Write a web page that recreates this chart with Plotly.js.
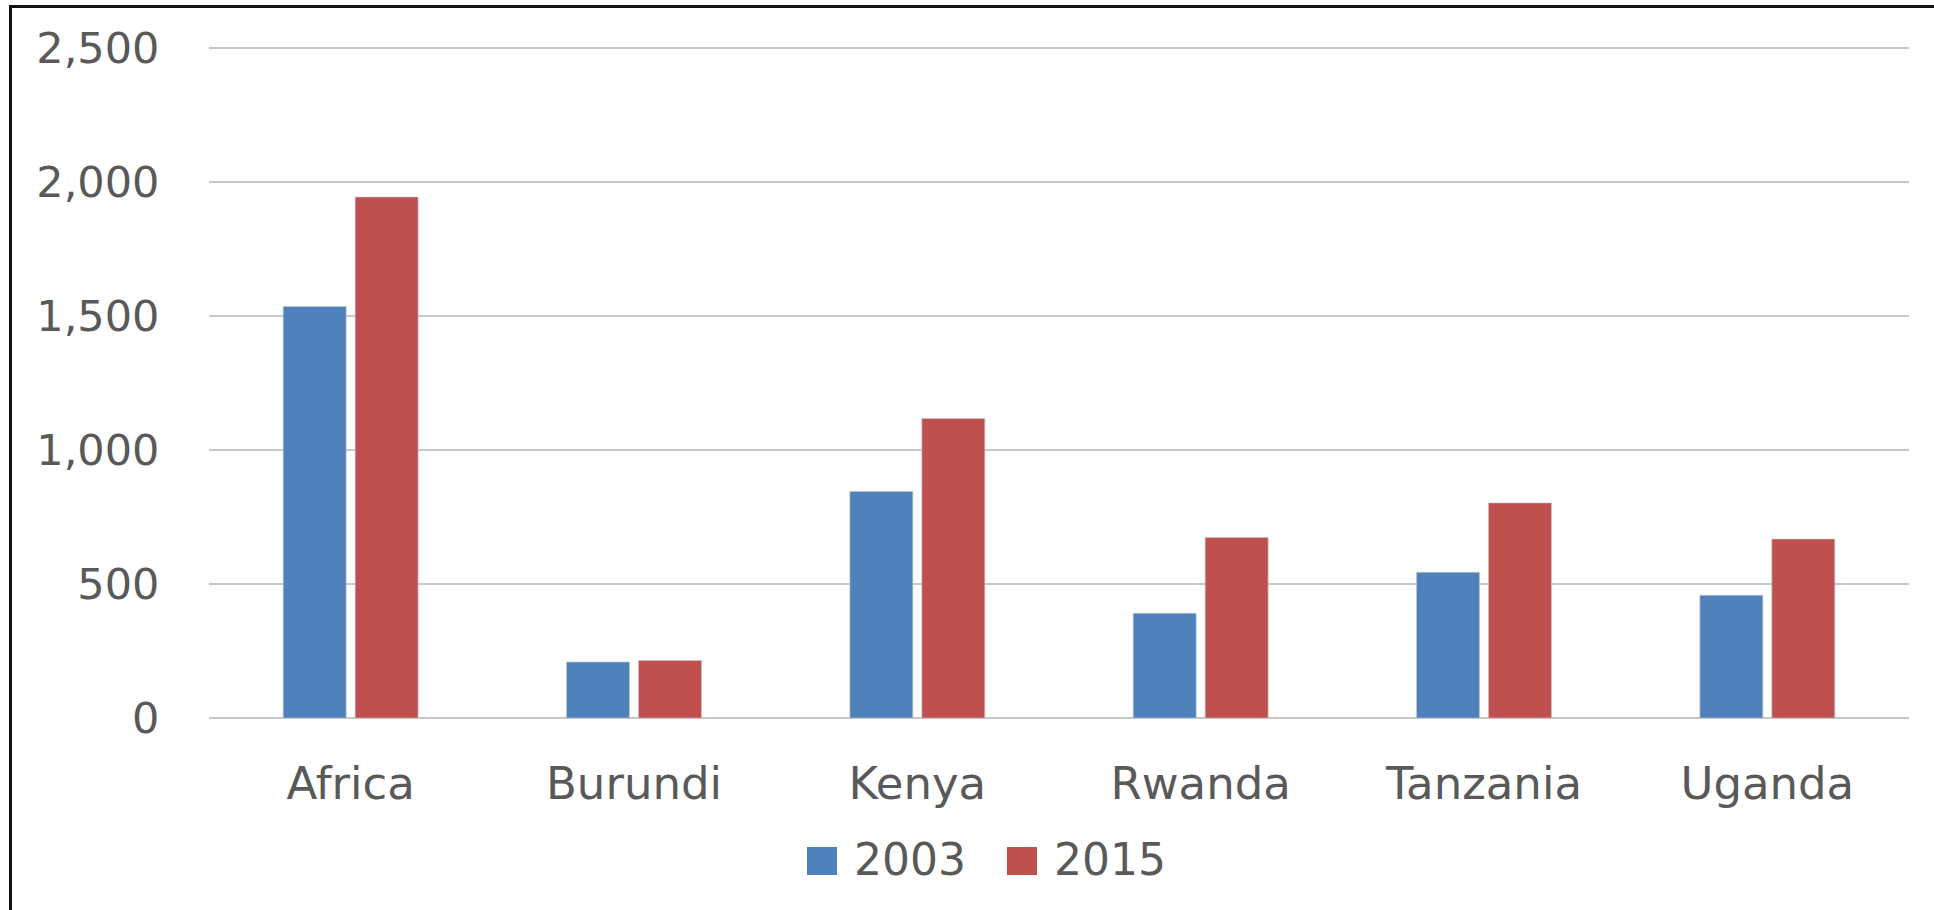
<!DOCTYPE html>
<html>
<head>
<meta charset="utf-8">
<script src="https://cdn.plot.ly/plotly-3.0.1.min.js"></script>
<style>
  html, body { margin: 0; padding: 0; background: #fff; }
  #chart { width: 1934px; height: 910px; }
  #frame { position: absolute; left: 9px; top: 5px; width: 1925px; height: 905px;
           border-left: 3px solid #111; border-top: 3px solid #111; pointer-events: none; box-sizing: border-box; }
</style>
</head>
<body>
<div id="chart"></div>
<div id="frame"></div>
<script>
const categories = ["Africa", "Burundi", "Kenya", "Rwanda", "Tanzania", "Uganda"];
const seriesNames = ["2003", "2015"];
const values2003 = [1536, 209, 846, 391, 544, 458];
const values2015 = [1945, 215, 1118, 674, 803, 668];
const yTickValues = [0, 500, 1000, 1500, 2000, 2500];
const colors = ["#4F81BD", "#C0504D"];

const FONT = "DejaVu Sans";
const TEXT = "#595959";

const traces = [values2003, values2015].map((vals, i) => ({
  type: "bar",
  name: seriesNames[i],
  x: categories,
  y: vals,
  marker: { color: colors[i], line: { color: "rgba(200,200,200,0.6)", width: 1 } },
  showlegend: false,
  hoverinfo: "x+y+name"
}));

// manual legend (large squares like the reference)
const L = 209, W = 1700, T = 43, H = 675;
const px = x => (x - L) / W;
const py = y => (T + H - y) / H;
const legendItems = [
  { sq: [807, 837], tx: 852 },
  { sq: [1007, 1037], tx: 1052 }
];
const shapes = legendItems.map((it, i) => ({
  type: "rect", xref: "paper", yref: "paper",
  x0: px(it.sq[0]), x1: px(it.sq[1]), y0: py(875), y1: py(847),
  fillcolor: colors[i], line: { width: 0 }
}));
const annotations = legendItems.map((it, i) => ({
  xref: "paper", yref: "paper", x: px(it.tx), y: py(859),
  xanchor: "left", yanchor: "middle", showarrow: false,
  text: seriesNames[i], font: { family: FONT, size: 44, color: TEXT }
}));

const layout = {
  width: 1934, height: 910,
  margin: { l: L, r: 1934 - L - W, t: T, b: 910 - T - H, pad: 0 },
  paper_bgcolor: "#fff", plot_bgcolor: "#fff",
  barmode: "group", bargap: 0.492, bargroupgap: 0.125,
  showlegend: false,
  xaxis: {
    type: "category",
    tickfont: { family: FONT, size: 45, color: TEXT },
    ticks: "outside", ticklen: 26, tickcolor: "rgba(0,0,0,0)",
    showline: false, showgrid: false, zeroline: false, fixedrange: true
  },
  yaxis: {
    range: [0, 2520],
    tickvals: yTickValues,
    tickformat: ",d",
    tickfont: { family: FONT, size: 43, color: TEXT },
    ticks: "outside", ticklen: 40, tickcolor: "rgba(0,0,0,0)",
    showgrid: true, gridcolor: "#c8c8c8", gridwidth: 2,
    zeroline: true, zerolinecolor: "#c8c8c8", zerolinewidth: 2,
    showline: false, fixedrange: true
  },
  shapes: shapes,
  annotations: annotations
};

Plotly.newPlot("chart", traces, layout, { displayModeBar: false, staticPlot: true });
</script>
</body>
</html>
